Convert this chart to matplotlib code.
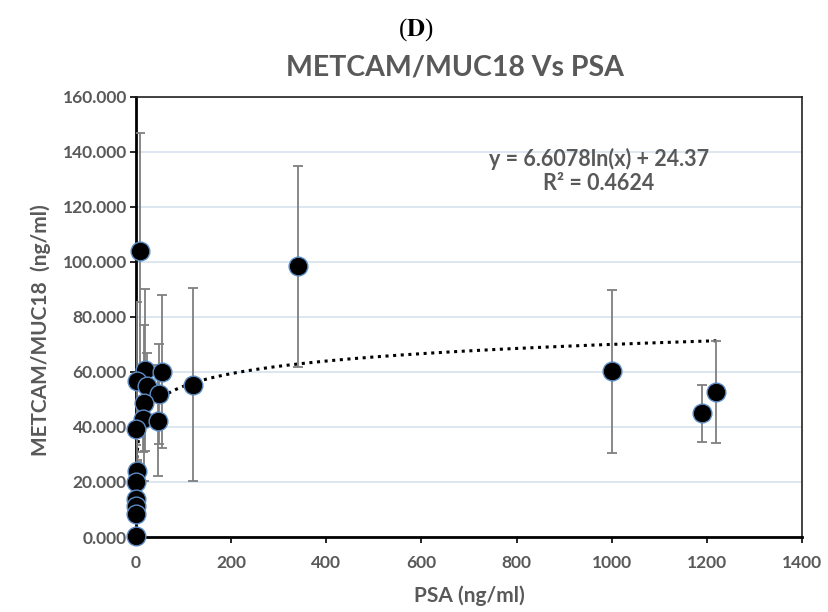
import numpy as np
import matplotlib
matplotlib.use("Agg")
import matplotlib.pyplot as plt

# Data
psa = [9, 340, 1000, 1190, 1220, 119, 20, 54, 2.7, 24, 49, 17, 14, 46,
       0.5, 1.5, 0.8, 0.3, 0.3, 0.3, 0.1]
metcam = [103.8, 98.4, 60.2, 44.9, 52.7, 55.4, 60.7, 60.1, 56.7, 54.9, 51.9, 48.6,
          42.8, 42.2, 39.4, 24.1, 20.1, 13.8, 11.4, 8.3, 0.25]
err = [43.2, 36.6, 29.7, 10.5, 18.4, 35.0, 29.5, 27.8, 28.7, 12.1, 18.1, 28.3,
       12.0, 20.2, 6.0, 3.0, 2.0, 2.0, 1.0, 1.0, 0.0]
slope = 6.6078
intercept = 24.37
r2 = 0.4624

x_ticks = [0, 200, 400, 600, 800, 1000, 1200, 1400]
y_ticks = [0, 20, 40, 60, 80, 100, 120, 140, 160]

gray = "#595959"
plt.rcParams['font.family'] = ['Lato', 'DejaVu Sans']
plt.rcParams['mathtext.fontset'] = 'stix'

fig = plt.figure(figsize=(8.29, 6.12), dpi=100)
ax = fig.add_axes([0.164, 0.1225, 0.8034, 0.7194])

ax.set_xlim(0, 1400)
ax.set_ylim(0, 160)
ax.set_yticks(y_ticks)
ax.set_xticks(x_ticks)
ax.set_yticklabels([f"{v:.3f}" for v in y_ticks])
ax.set_xticklabels([str(v) for v in x_ticks])
ax.yaxis.grid(True, color="#d6e3ef", linewidth=1.2)
ax.set_axisbelow(True)

for lab in ax.get_xticklabels() + ax.get_yticklabels():
    lab.set_fontweight('bold')
    lab.set_color(gray)
    lab.set_fontsize(12.5)
ax.tick_params(axis='both', direction='out', length=4, width=1.2, color='black')
ax.tick_params(axis='y', pad=2.5)
ax.tick_params(axis='x', pad=9)

for s in ['left', 'bottom']:
    ax.spines[s].set_linewidth(2)
    ax.spines[s].set_color('black')
for s in ['top', 'right']:
    ax.spines[s].set_linewidth(1.2)
    ax.spines[s].set_color('#222222')

# trendline
xt = np.linspace(min(psa), max(psa), 2000)
yt = slope * np.log(xt) + intercept
ax.plot(xt, yt, linestyle=(0, (1, 1.5)), color='black', linewidth=2.2, zorder=2)

ax.errorbar(psa, metcam, yerr=err, fmt='none', ecolor='#7f7f7f', elinewidth=1.3,
            capsize=3.5, capthick=1.3, zorder=3)
ax.plot(psa, metcam, 'o', markersize=13.5, markerfacecolor='black',
        markeredgecolor='#5b8cc4', markeredgewidth=1.0, linestyle='none', zorder=4,
        clip_on=False)

ax.text(0.695, 0.831, f"y = {slope}ln(x) + {intercept}\nR² = {r2}", transform=ax.transAxes,
        ha='center', va='center', fontsize=15.5, fontweight='bold', color=gray,
        linespacing=1.15)

ax.set_xlabel("PSA (ng/ml)", fontsize=15, fontweight='bold', color=gray, labelpad=10)
ax.set_ylabel("METCAM/MUC18  (ng/ml)", fontsize=15, fontweight='bold', color=gray)
ax.yaxis.set_label_coords(-0.128, 0.47)

fig.text(0.501, 0.951, r"($\mathbf{D}$)", ha='center', va='center', fontsize=18,
         family=['Liberation Serif', 'DejaVu Serif'])
fig.text(0.549, 0.889, "METCAM/MUC18 Vs PSA", ha='center', va='center', fontsize=20.5,
         fontweight='bold', color=gray)

fig.savefig("out.png", dpi=100)
